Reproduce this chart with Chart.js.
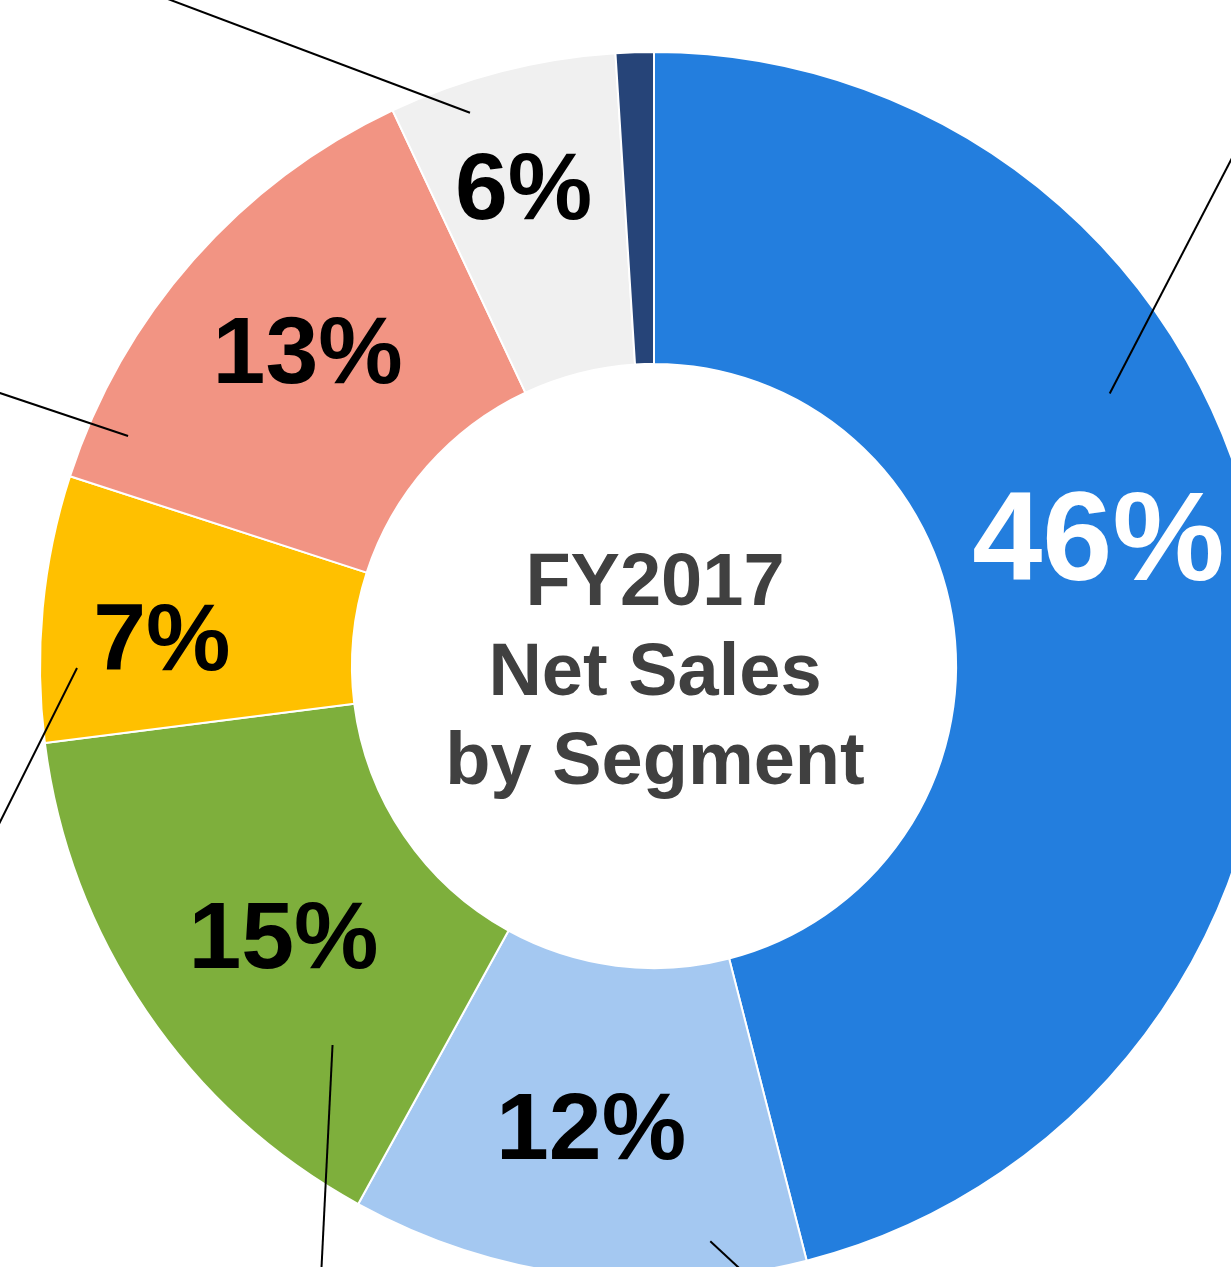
<!DOCTYPE html>
<html>
<head>
<meta charset="utf-8">
<script src="https://cdn.jsdelivr.net/npm/chart.js@4"></script>
<style>
  html, body { margin: 0; padding: 0; background: #fff; }
  body { width: 1231px; height: 1267px; overflow: hidden; position: relative; }
  #wrap { position: absolute; left: -46px; top: -34px; width: 1400px; height: 1400px; }
</style>
</head>
<body>
<div id="wrap"><canvas id="segmentDonut" width="1400" height="1400"></canvas></div>
<script>
document.addEventListener("DOMContentLoaded", function () {
  // FY2017 net sales share by segment, clockwise from 12 o'clock
  const segments = ["Segment A", "Segment B", "Segment C", "Segment D", "Segment E", "Segment F", "Other"];
  const shares = [46, 12, 15, 7, 13, 6, 1];
  const shareLabels = ["46%", "12%", "15%", "7%", "13%", "6%", ""];
  const centerLines = ["FY2017", "Net Sales", "by Segment"];

  const colors = ["#237EDE", "#A4C8F1", "#7EAF3C", "#FFC000", "#F29483", "#F0F0F0", "#264478"];

  // label placement inside each ring slice
  const labelRadius = [463, 464, 458, 493, 469, 497];
  const labelNudge = [-9.1, 0.6, -1.8, -2, 1, -0.8];
  const labelColor = ["#ffffff", "#000", "#000", "#000", "#000", "#000"];
  const labelSize = [126, 95, 95, 95, 95, 95];

  // leader lines: where in the slice they start, and their direction out
  const leaderFrac = [0.357, 0.204, 0.213, 0.278, 0.12, 0.315];
  const leaderRadius = [531, 578, 497, 577, 574, 583];
  const leaderDir = [[121, -233], [28, 26], [-11, 222], [-77, 154], [-128, -43], [-300, -113]];

  const donutText = {
    id: "donutText",
    afterDatasetsDraw(chart) {
      const ctx = chart.ctx;
      const arcs = chart.getDatasetMeta(0).data;
      const cx = arcs[0].x, cy = arcs[0].y;
      ctx.save();

      // leader lines
      ctx.strokeStyle = "#000";
      ctx.lineWidth = 2;
      leaderFrac.forEach((f, i) => {
        const a = arcs[i];
        const ang = a.startAngle + (a.endAngle - a.startAngle) * f;
        const x0 = cx + Math.cos(ang) * leaderRadius[i];
        const y0 = cy + Math.sin(ang) * leaderRadius[i];
        const [dx, dy] = leaderDir[i];
        const len = Math.hypot(dx, dy);
        ctx.beginPath();
        ctx.moveTo(x0, y0);
        ctx.lineTo(x0 + dx / len * 900, y0 + dy / len * 900);
        ctx.stroke();
      });

      // percent labels
      ctx.textAlign = "center";
      ctx.textBaseline = "middle";
      shareLabels.forEach((txt, i) => {
        if (!txt) return;
        const a = arcs[i];
        const mid = (a.startAngle + a.endAngle) / 2 + labelNudge[i] * Math.PI / 180;
        const x = cx + Math.cos(mid) * labelRadius[i];
        const y = cy + Math.sin(mid) * labelRadius[i];
        ctx.fillStyle = labelColor[i];
        ctx.font = "bold " + labelSize[i] + "px 'Liberation Sans', Arial, sans-serif";
        ctx.fillText(txt, x, y + labelSize[i] * 0.07);
      });

      // center title
      ctx.fillStyle = "#404040";
      ctx.font = "bold 74px 'Liberation Sans', Arial, sans-serif";
      ctx.textBaseline = "alphabetic";
      const offsets = [-61, 29, 118];
      centerLines.forEach((line, i) => {
        ctx.fillText(line, cx + 1, cy + offsets[i]);
      });
      ctx.restore();
    }
  };

  new Chart(document.getElementById("segmentDonut").getContext("2d"), {
    type: "doughnut",
    data: {
      labels: segments,
      datasets: [{
        data: shares,
        backgroundColor: colors,
        borderColor: "#ffffff",
        borderWidth: 2,
      }],
    },
    options: {
      responsive: false,
      animation: false,
      radius: 614,
      cutout: "49.2%",
      layout: { padding: 0 },
      plugins: {
        legend: { display: false },
        tooltip: { enabled: false },
      },
    },
    plugins: [donutText],
  });
});
</script>
</body>
</html>
